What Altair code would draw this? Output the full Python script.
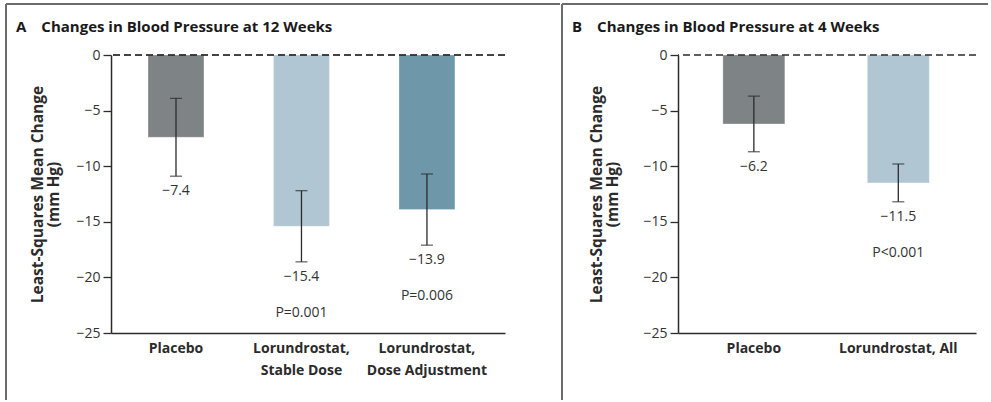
import altair as alt
import pandas as pd

# Panel A: change at 12 weeks
cats_a = ["Placebo", "Lorundrostat, Stable Dose", "Lorundrostat, Dose Adjustment"]
mean_a = [-7.4, -15.4, -13.9]
ci_upper_a = [-3.9, -12.2, -10.7]
ci_lower_a = [-10.9, -18.6, -17.1]
pval_a = ["", "P=0.001", "P=0.006"]

# Panel B: change at 4 weeks
cats_b = ["Placebo", "Lorundrostat, All"]
mean_b = [-6.2, -11.5]
ci_upper_b = [-3.7, -9.8]
ci_lower_b = [-8.7, -13.2]
pval_b = ["", "P<0.001"]

y_ticks = [0, -5, -10, -15, -20, -25]

GRAY = "#7e8386"
LIGHT = "#b0c6d3"
TEAL = "#6f97aa"
INK = "#2b2b2b"
FRAME = "#6b6b6b"
FONT = "Open Sans"

PLOT_H = 278


def panel(cats, mean, hi, lo, pv, colors, width, title, label_expr,
          pad_inner, pad_outer, align, ytitle_x, frame):
    df = pd.DataFrame({"group": cats, "mean": mean, "hi": hi, "lo": lo, "p": pv})
    base = alt.Chart(df)
    x = alt.X(
        "group:N", sort=cats,
        scale=alt.Scale(paddingInner=pad_inner, paddingOuter=pad_outer, align=align),
        axis=alt.Axis(
            title=None, labelAngle=0, ticks=False, domain=True,
            domainColor=INK, domainWidth=1.5,
            labelFont=FONT, labelFontWeight="bold", labelFontSize=14,
            labelColor=INK, labelPadding=8, labelLineHeight=22,
            labelExpr=label_expr,
        ),
    )
    yscale = alt.Scale(domain=[-25, 0], nice=False)
    y_axis = alt.Axis(
        values=y_ticks, grid=False, domainColor=INK, domainWidth=1.5,
        tickColor=INK, tickWidth=1.3, tickSize=8, labelPadding=3,
        labelFont=FONT, labelFontSize=14, labelColor="#333333",
        title=["Least-Squares Mean Change", "(mm Hg)"],
        titleFont=FONT, titleFontWeight="bold", titleFontSize=15.5,
        titleColor=INK, titleLineHeight=16, titleX=ytitle_x,
        titleY=PLOT_H / 2, titleAngle=270, titleAlign="center",
        titleBaseline="middle",
    )

    bars = base.mark_bar(stroke="white", strokeWidth=0.6, strokeOpacity=0.5).encode(
        x=x,
        y=alt.Y("mean:Q", scale=yscale, axis=y_axis),
        color=alt.Color("group:N", scale=alt.Scale(domain=cats, range=colors), legend=None),
    )
    whisker = base.mark_rule(color=INK, strokeWidth=1.3).encode(
        x=alt.X("group:N", sort=cats), y="hi:Q", y2="lo:Q"
    )
    cap_hi = base.mark_tick(color=INK, thickness=1.3, size=12).encode(
        x=alt.X("group:N", sort=cats), y="hi:Q"
    )
    cap_lo = base.mark_tick(color=INK, thickness=1.3, size=12).encode(
        x=alt.X("group:N", sort=cats), y="lo:Q"
    )
    value_txt = base.mark_text(
        font=FONT, fontSize=14, color="#333333", dy=15, baseline="middle"
    ).encode(
        x=alt.X("group:N", sort=cats), y="lo:Q", text=alt.Text("mean:Q", format=".1f")
    )
    p_txt = base.mark_text(
        font=FONT, fontSize=14, color="#333333", dy=51, baseline="middle"
    ).encode(
        x=alt.X("group:N", sort=cats), y="lo:Q", text="p:N"
    )
    zero = base.mark_rule(color=INK, strokeWidth=1.2, strokeDash=[7, 4]).encode(
        y=alt.datum(0)
    )

    layers = [bars, whisker, cap_hi, cap_lo, value_txt, p_txt, zero]
    # panel frame: top rule plus vertical rule on the left side
    fx0, fx1 = frame
    layers.append(
        base.mark_rule(color=FRAME, strokeWidth=2).encode(
            x=alt.value(fx0), x2=alt.value(fx1), y=alt.value(-51)
        )
    )
    layers.append(
        base.mark_rule(color=FRAME, strokeWidth=2).encode(
            x=alt.value(fx0), y=alt.value(-51), y2=alt.value(345)
        )
    )

    return alt.layer(*layers).properties(
        width=width,
        height=PLOT_H,
        title=alt.TitleParams(
            text=title, anchor="start", frame="group", orient="top",
            dx=fx0 + 10, offset=-44, baseline="alphabetic",
            font=FONT, fontSize=15, fontWeight="bold", color="#1a1a1a",
        ),
    ).resolve_scale(color="independent")


left = panel(
    cats_a, mean_a, ci_upper_a, ci_lower_a, pval_a, [GRAY, LIGHT, TEAL], 394,
    "A\u2003Changes in Blood Pressure at 12 Weeks",
    "split(replace(datum.label, ', ', ',|'), '|')",
    0.554, 0.347, 0.425, -74, (-105, 394 + 55),
)
right = panel(
    cats_b, mean_b, ci_upper_b, ci_lower_b, pval_b, [GRAY, LIGHT], 298,
    "B\u2003Changes in Blood Pressure at 4 Weeks",
    "datum.label",
    0.571, 0.317, 0.49, -82, (-116, 298 + 12),
)

chart = alt.hconcat(left, right, spacing=0).resolve_scale(color="independent").properties(
    padding={"left": 5, "top": 3, "right": 0, "bottom": 0},
    background="white",
).configure_view(stroke=None)

chart.save("out.html", embed_options={"renderer": "svg", "actions": False})
